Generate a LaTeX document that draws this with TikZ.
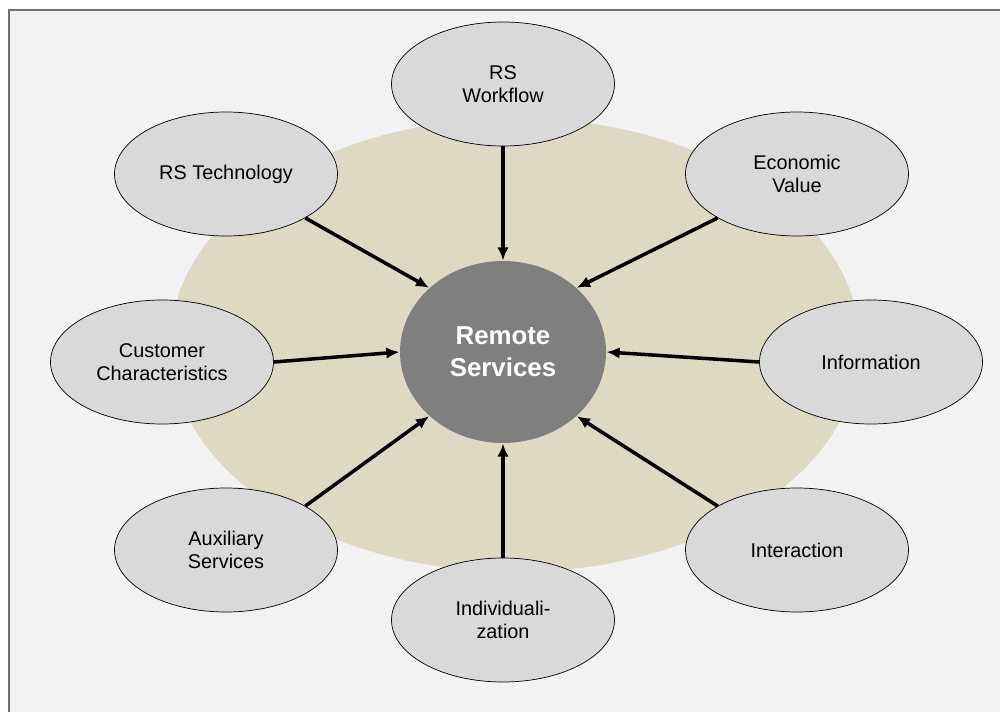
\documentclass[tikz,border=0pt]{standalone}
\usepackage{fontspec}
\setmainfont{Liberation Sans}
\usetikzlibrary{shapes.geometric, arrows.meta}

\definecolor{panel}{HTML}{F2F2F2}
\definecolor{rim}{HTML}{707070}
\definecolor{sand}{HTML}{DDD9C3}
\definecolor{bubble}{HTML}{D9D9D9}
\definecolor{hub}{HTML}{7F7F7F}

\begin{document}
\begin{tikzpicture}[-{Latex[length=7.5pt, width=6.5pt]}, semithick,
outer/.style = { ellipse, fill = bubble, draw = black, thin, minimum width = 4.46cm, minimum height = 2.48cm,
inner sep = 0pt, align = center, font = \fontsize{11.3}{13}\selectfont },
core/.style = { ellipse, fill = hub, text = white, minimum width = 4.12cm, minimum height = 3.64cm,
inner sep = 0pt, align = center, font = \bfseries\fontsize{14.7}{18.2}\selectfont },
arc_in/.style = { color = black, line width = 2pt }]
\useasboundingbox (0,0) rectangle (20,14.22);
\fill[white] (0,0) rectangle (20,14.22);
\draw[draw = rim, fill = panel, line width = 0.04cm] (0.18,-1) rectangle (21,14.02);
\fill[sand] (10.3,7.32) ellipse [x radius = 6.9, y radius = 4.54];
\node[core] (rs) at (10.06,7.18) {Remote\\Services};
\node[outer] (flow) at (10.06,12.54) {RS\\Workflow};
\node[outer] (tech) at (4.52,10.74) {RS Technology};
\node[outer] (econ) at (15.94,10.74) {Economic\\Value};
\node[outer] (cust) at (3.24,6.98) {Customer\\Characteristics};
\node[outer] (info) at (17.42,6.98) {Information};
\node[outer] (aux) at (4.52,3.22) {Auxiliary\\Services};
\node[outer] (inter) at (15.94,3.22) {Interaction};
\node[outer] (indiv) at (10.06,1.82) {Individuali-\\zation};
\path[arc_in](flow) edge (rs);
\path[arc_in](tech.-29) edge (rs.139);
\path[arc_in](econ.209) edge (rs.41);
\path[arc_in](cust.east) edge (rs.west);
\path[arc_in](info.west) edge (rs.east);
\path[arc_in](aux.29) edge (rs.221);
\path[arc_in](inter.151) edge (rs.319);
\path[arc_in](indiv) edge (rs);
\end{tikzpicture}
\end{document}
